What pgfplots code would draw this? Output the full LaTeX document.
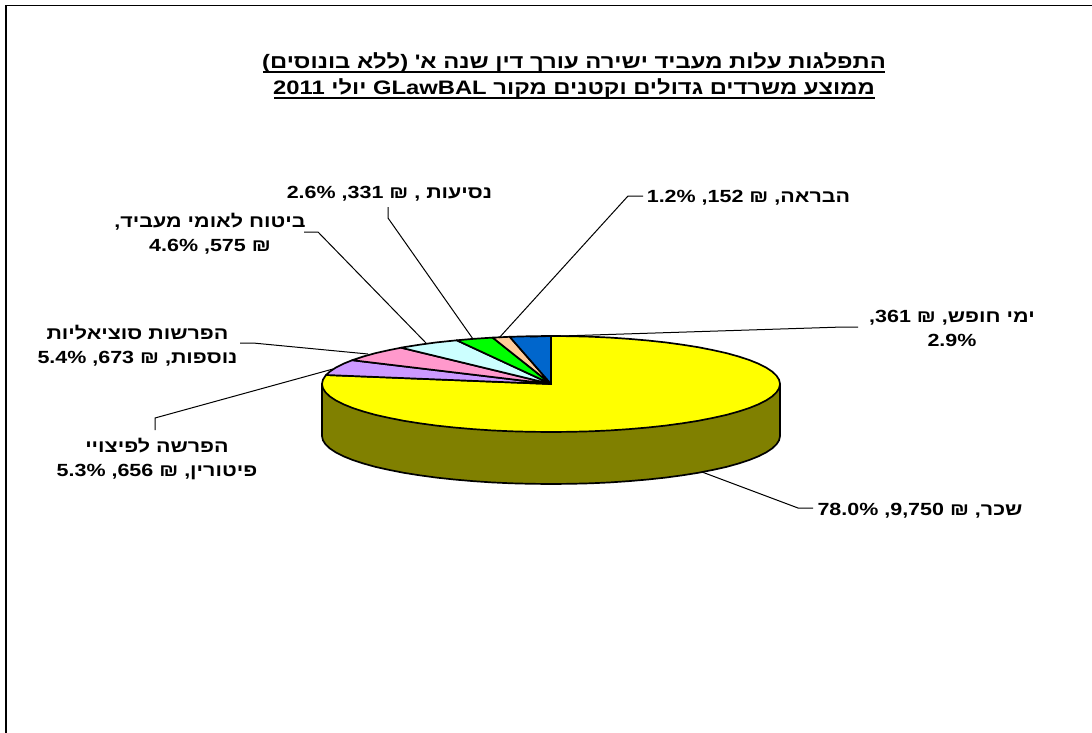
\documentclass[border=0pt]{standalone}
\usepackage{fontspec}
\usepackage{pgfplots}
\pgfplotsset{compat=1.18}
\TeXXeTstate=1
\setmainfont{Liberation Sans}
\newfontfamily\heb[Script=Hebrew,FakeStretch=1.22]{Liberation Sans}
\newfontfamily\lat[FakeStretch=1.22]{Liberation Sans}
\newcommand\num[1]{\beginL{\lat #1}\endL}
\newcommand\lblfont{\fontsize{17.6}{24}\selectfont\bfseries\heb}
\newcommand\ttlfont{\fontsize{19.5}{26}\selectfont\bfseries\heb}

% Pie outlines: top ellipse centred on (551,384), radii 229 and 48, rim depth 52.
% Slices in shekels: 361, 152, 331, 575, 673, 656, 9750 (counter-clockwise from the top).
\definecolor{rim}{HTML}{808000}
\definecolor{slYellow}{HTML}{FFFF00}
\definecolor{slPurple}{HTML}{CC99FF}
\definecolor{slPink}{HTML}{FF99CC}
\definecolor{slCyan}{HTML}{CCFFFF}
\definecolor{slGreen}{HTML}{00FF00}
\definecolor{slPeach}{HTML}{FFCC99}
\definecolor{slBlue}{HTML}{0066CC}

\begin{document}
\begin{tikzpicture}
\path[use as bounding box] (0,0) rectangle (1092pt,733pt);
\begin{axis}[
  at={(0,0)}, anchor=south west,
  scale only axis, width=1092pt, height=733pt,
  xmin=0, xmax=1092, ymin=0, ymax=733, y dir=reverse,
  hide axis, clip=false,
  pie/.style={draw=black, line width=1.7pt, line join=round},
  lead/.style={draw=black, line width=1pt, no marks},
  every node/.style={inner sep=0pt, outer sep=0pt},
]
% chart frame, open at the right and the bottom
\addplot[black, line width=1.6pt, no marks] coordinates {(6,733) (6,5.7) (1092,5.7)};

% rim of the pie
\addplot[pie, fill=rim] coordinates {
(322,384) (322,436) (322.9,440.2) (325.5,444.3) (329.8,448.4) (335.8,452.4) (343.5,456.3) (352.7,460)
(363.4,463.5) (375.6,466.9) (389.1,469.9) (403.8,472.8) (419.6,475.3) (436.5,477.6) (454.2,479.5)
(472.7,481.1) (491.7,482.4) (511.2,483.3) (531,483.8) (551,484) (571,483.8) (590.8,483.3) (610.3,482.4)
(629.3,481.1) (647.8,479.5) (665.5,477.6) (682.4,475.3) (698.2,472.8) (712.9,469.9) (726.4,466.9)
(738.6,463.5) (749.3,460) (758.5,456.3) (766.2,452.4) (772.2,448.4) (776.5,444.3) (779.1,440.2)
(780,436) (780,384)} -- cycle;

% salary, 78.0%
\addplot[pie, fill=slYellow] coordinates {
(551,384) (326.1,375) (325.5,375.7) (322.9,379.8) (322,384) (322.9,388.2) (325.5,392.3) (329.8,396.4)
(335.8,400.4) (343.5,404.3) (352.7,408) (363.4,411.5) (375.6,414.9) (389.1,417.9) (403.8,420.8)
(419.6,423.3) (436.5,425.6) (454.2,427.5) (472.7,429.1) (491.7,430.4) (511.2,431.3) (531,431.8)
(551,432) (571,431.8) (590.8,431.3) (610.3,430.4) (629.3,429.1) (647.8,427.5) (665.5,425.6)
(682.4,423.3) (698.2,420.8) (712.9,417.9) (726.4,414.9) (738.6,411.5) (749.3,408) (758.5,404.3)
(766.2,400.4) (772.2,396.4) (776.5,392.3) (779.1,388.2) (780,384) (779.1,379.8) (776.5,375.7)
(772.2,371.6) (766.2,367.6) (758.5,363.7) (749.3,360) (738.6,356.5) (726.4,353.1) (712.9,350.1)
(698.2,347.2) (682.4,344.7) (665.5,342.4) (647.8,340.5) (629.3,338.9) (610.3,337.6) (590.8,336.7)
(571,336.2) (551,336)} -- cycle;

% severance provision, 5.3%
\addplot[pie, fill=slPurple] coordinates {
(551,384) (352.2,360.2) (343.5,363.7) (335.8,367.6) (329.8,371.6) (326.1,375)} -- cycle;
% further social provisions, 5.4%
\addplot[pie, fill=slPink] coordinates {
(551,384) (401.1,347.7) (389.1,350.1) (375.6,353.1) (363.4,356.5) (352.2,360.2)} -- cycle;
% national insurance, 4.6%
\addplot[pie, fill=slCyan] coordinates {
(551,384) (456.7,340.3) (436.5,342.4) (419.6,344.7) (403.8,347.2) (401.1,347.7)} -- cycle;
% travel, 2.6%
\addplot[pie, fill=slGreen] coordinates {
(551,384) (492.6,337.6) (472.7,338.9) (456.7,340.3)} -- cycle;
% convalescence, 1.2%
\addplot[pie, fill=slPeach] coordinates {
(551,384) (509.7,336.8) (492.6,337.6)} -- cycle;
% vacation days, 2.9%
\addplot[pie, fill=slBlue] coordinates {
(551,384) (551,336) (531,336.2) (509.7,336.8)} -- cycle;

% leader lines
\addplot[lead] coordinates {(643,196) (628,196) (499,338)};
\addplot[lead] coordinates {(388,207) (388,218) (473,339)};
\addplot[lead] coordinates {(304,232) (318,232) (426,343)};
\addplot[lead] coordinates {(240,343) (253,343) (368,354)};
\addplot[lead] coordinates {(155,430) (155,418) (333,369)};
\addplot[lead] coordinates {(858,327) (843,327) (530,337)};
\addplot[lead] coordinates {(813,508) (798,508) (702,472)};

% title with its two underlines
\addplot[black, line width=2pt, no marks] coordinates {(263,72) (885,72)};
\addplot[black, line width=2pt, no marks] coordinates {(274,98.5) (875,98.5)};
\node[anchor=base, font=\ttlfont] at (axis cs:574,68.5) {\beginR התפלגות עלות מעביד ישירה עורך דין שנה א' (ללא בונוסים)\endR};
\node[anchor=base, font=\ttlfont] at (axis cs:574,95) {\beginR ממוצע משרדים גדולים וקטנים מקור \num{GLawBAL} יולי \num{2011}\endR};

% slice labels
\node[font=\lblfont] at (axis cs:748.5,197.5) {\beginR הבראה, ₪ \num{152}, \num{1.2\%}\endR};
\node[font=\lblfont] at (axis cs:389.5,193.5) {\beginR נסיעות , ₪ \num{331}, \num{2.6\%}\endR};
\node[font=\lblfont, align=center] at (axis cs:210,234) {\beginR ביטוח לאומי מעביד,\endR\\\beginR ₪ \num{575}, \num{4.6\%}\endR};
\node[font=\lblfont, align=center] at (axis cs:137.5,345.5) {\beginR הפרשות סוציאליות\endR\\\beginR נוספות, ₪ \num{673}, \num{5.4\%}\endR};
\node[font=\lblfont, align=center] at (axis cs:157,458.5) {\beginR הפרשה לפיצויי\endR\\\beginR פיטורין, ₪ \num{656}, \num{5.3\%}\endR};
\node[font=\lblfont, align=center] at (axis cs:952,328.5) {\beginR ימי חופש, ₪ \num{361},\endR\\\num{2.9\%}};
\node[font=\lblfont] at (axis cs:920,510.5) {\beginR שכר, ₪ \num{9,750}, \num{78.0\%}\endR};
\end{axis}
\end{tikzpicture}
\end{document}
